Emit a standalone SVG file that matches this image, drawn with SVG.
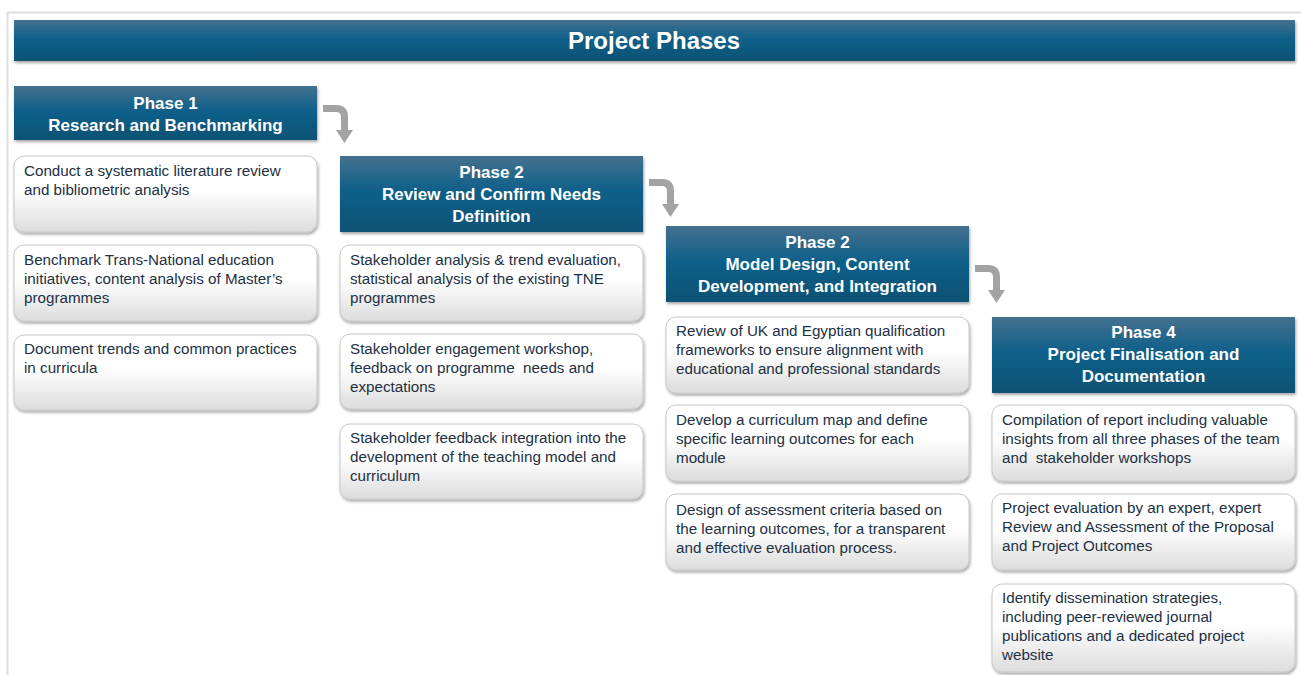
<svg xmlns="http://www.w3.org/2000/svg" width="1301" height="675" viewBox="0 0 1301 675">
<defs>
<linearGradient id="hdr" x1="0" y1="0" x2="0" y2="1">
<stop offset="0" stop-color="#45718f"/>
<stop offset="0.45" stop-color="#10608a"/>
<stop offset="1" stop-color="#0b5274"/>
</linearGradient>
<linearGradient id="card" x1="0" y1="0" x2="0" y2="1">
<stop offset="0" stop-color="#ffffff"/>
<stop offset="0.45" stop-color="#ffffff"/>
<stop offset="1" stop-color="#dcdcdc"/>
</linearGradient>
<filter id="sh" x="-5%" y="-10%" width="110%" height="130%">
<feDropShadow dx="1" dy="2" stdDeviation="1.5" flood-color="#000" flood-opacity="0.35"/>
</filter>
</defs>
<style>
.hdr{fill:url(#hdr);filter:url(#sh);}
.card{fill:url(#card);stroke:#c8c8c8;stroke-width:1;filter:url(#sh);}
.ht{font-family:"Liberation Sans",Arial,sans-serif;font-weight:bold;font-size:17px;fill:#ffffff;text-anchor:middle;}
.title{font-family:"Liberation Sans",Arial,sans-serif;font-weight:bold;font-size:24px;fill:#ffffff;text-anchor:middle;}
.ct{font-family:"Liberation Sans",Arial,sans-serif;font-size:15.2px;fill:#223044;white-space:pre;}
.arr{fill:none;stroke:#a3a3a3;stroke-width:7;}
.ahd{fill:#a3a3a3;}
</style>
<rect width="1301" height="675" fill="#ffffff"/>
<path d="M7.5 675 V12.5 H1301" fill="none" stroke="#dedede" stroke-width="2"/>

<g id="title">
<rect class="hdr" x="14" y="20" width="1281" height="41"/>
<text class="title" x="654" y="49">Project Phases</text>
</g>

<g id="connectors">
<path class="arr" d="M323 108.5 H336 Q344.5 108.5 344.5 117 V131"/>
<polygon class="ahd" points="336,130 353,130 344.5,143"/>
<path class="arr" d="M649 182.5 H662 Q670.5 182.5 670.5 191 V205"/>
<polygon class="ahd" points="662,204 679,204 670.5,217"/>
<path class="arr" d="M975 268.5 H988 Q996.5 268.5 996.5 277 V291"/>
<polygon class="ahd" points="988,290 1005,290 996.5,303"/>
</g>

<g id="phase1">
<rect class="hdr" x="14" y="86" width="303" height="54"/>
<text class="ht" x="165.5" y="109">Phase 1</text>
<text class="ht" x="165.5" y="131">Research and Benchmarking</text>
</g>
<g id="p1c1">
<rect class="card" x="14" y="156" width="303" height="76" rx="10"/>
<text class="ct" x="24" y="176">Conduct a systematic literature review</text>
<text class="ct" x="24" y="195">and bibliometric analysis</text>
</g>
<g id="p1c2">
<rect class="card" x="14" y="245" width="303" height="76" rx="10"/>
<text class="ct" x="24" y="265">Benchmark Trans-National education</text>
<text class="ct" x="24" y="284">initiatives, content analysis of Master’s</text>
<text class="ct" x="24" y="303">programmes</text>
</g>
<g id="p1c3">
<rect class="card" x="14" y="335" width="303" height="75" rx="10"/>
<text class="ct" x="24" y="354">Document trends and common practices</text>
<text class="ct" x="24" y="373">in curricula</text>
</g>

<g id="phase2">
<rect class="hdr" x="340" y="156" width="303" height="76"/>
<text class="ht" x="491.5" y="178">Phase 2</text>
<text class="ht" x="491.5" y="200">Review and Confirm Needs</text>
<text class="ht" x="491.5" y="222">Definition</text>
</g>
<g id="p2c1">
<rect class="card" x="340" y="245" width="303" height="76" rx="10"/>
<text class="ct" x="350" y="265">Stakeholder analysis &amp; trend evaluation,</text>
<text class="ct" x="350" y="284">statistical analysis of the existing TNE</text>
<text class="ct" x="350" y="303">programmes</text>
</g>
<g id="p2c2">
<rect class="card" x="340" y="334" width="303" height="75" rx="10"/>
<text class="ct" x="350" y="354">Stakeholder engagement workshop,</text>
<text class="ct" x="350" y="373">feedback on programme  needs and</text>
<text class="ct" x="350" y="392">expectations</text>
</g>
<g id="p2c3">
<rect class="card" x="340" y="424" width="303" height="75" rx="10"/>
<text class="ct" x="350" y="443">Stakeholder feedback integration into the</text>
<text class="ct" x="350" y="462">development of the teaching model and</text>
<text class="ct" x="350" y="481">curriculum</text>
</g>

<g id="phase3">
<rect class="hdr" x="666" y="226" width="303" height="76"/>
<text class="ht" x="817.5" y="248">Phase 2</text>
<text class="ht" x="817.5" y="270">Model Design, Content</text>
<text class="ht" x="817.5" y="292">Development, and Integration</text>
</g>
<g id="p3c1">
<rect class="card" x="666" y="317" width="303" height="76" rx="10"/>
<text class="ct" x="676" y="336">Review of UK and Egyptian qualification</text>
<text class="ct" x="676" y="355">frameworks to ensure alignment with</text>
<text class="ct" x="676" y="374">educational and professional standards</text>
</g>
<g id="p3c2">
<rect class="card" x="666" y="405" width="303" height="76" rx="10"/>
<text class="ct" x="676" y="425">Develop a curriculum map and define</text>
<text class="ct" x="676" y="444">specific learning outcomes for each</text>
<text class="ct" x="676" y="463">module</text>
</g>
<g id="p3c3">
<rect class="card" x="666" y="494" width="303" height="76" rx="10"/>
<text class="ct" x="676" y="515">Design of assessment criteria based on</text>
<text class="ct" x="676" y="534">the learning outcomes, for a transparent</text>
<text class="ct" x="676" y="553">and effective evaluation process.</text>
</g>

<g id="phase4">
<rect class="hdr" x="992" y="317" width="303" height="76"/>
<text class="ht" x="1143.5" y="338">Phase 4</text>
<text class="ht" x="1143.5" y="360">Project Finalisation and</text>
<text class="ht" x="1143.5" y="382">Documentation</text>
</g>
<g id="p4c1">
<rect class="card" x="992" y="405" width="303" height="76" rx="10"/>
<text class="ct" x="1002" y="425">Compilation of report including valuable</text>
<text class="ct" x="1002" y="444">insights from all three phases of the team</text>
<text class="ct" x="1002" y="463">and  stakeholder workshops</text>
</g>
<g id="p4c2">
<rect class="card" x="992" y="494" width="303" height="76" rx="10"/>
<text class="ct" x="1002" y="513">Project evaluation by an expert, expert</text>
<text class="ct" x="1002" y="532">Review and Assessment of the Proposal</text>
<text class="ct" x="1002" y="551">and Project Outcomes</text>
</g>
<g id="p4c3">
<rect class="card" x="992" y="584" width="303" height="88" rx="10"/>
<text class="ct" x="1002" y="603">Identify dissemination strategies,</text>
<text class="ct" x="1002" y="622">including peer-reviewed journal</text>
<text class="ct" x="1002" y="641">publications and a dedicated project</text>
<text class="ct" x="1002" y="660">website</text>
</g>
</svg>
